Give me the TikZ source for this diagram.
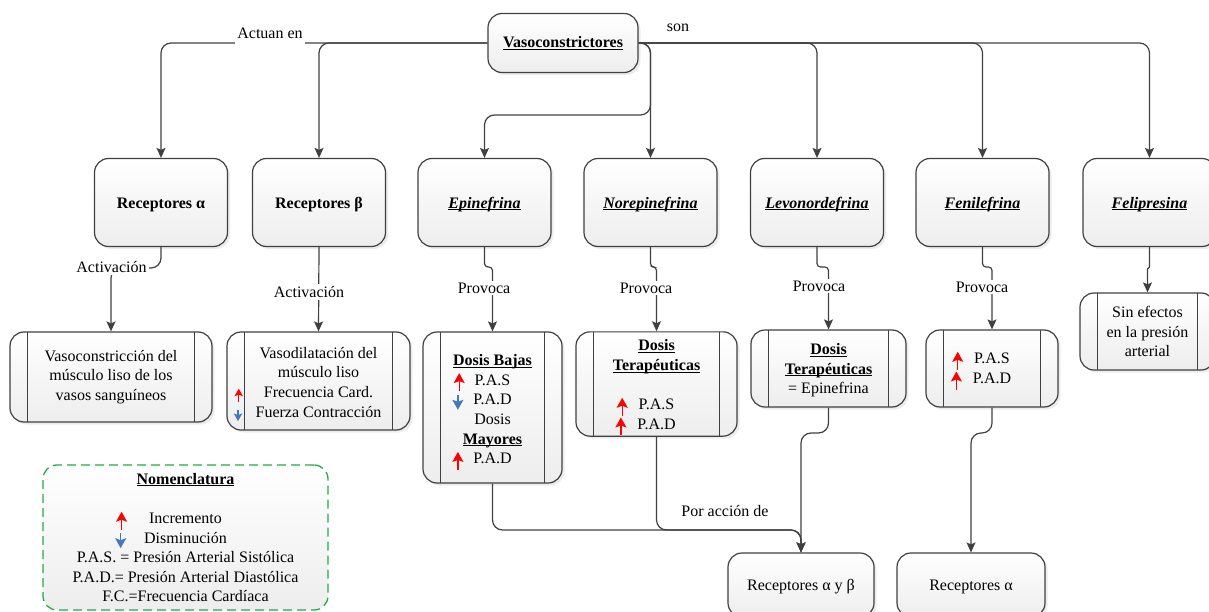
\documentclass[tikz,border=0pt]{standalone}
\usepackage{fontspec}
\setmainfont{Liberation Serif}
\usetikzlibrary{arrows.meta,shadows,calc}
\definecolor{lc}{HTML}{404040}
\definecolor{arred}{HTML}{FF0000}
\definecolor{arblue}{HTML}{4178BE}
\definecolor{nomgreen}{HTML}{22AA4C}
\newcommand{\upar}[1][1]{\tikz[baseline=0pt,x=1pt,y=1pt]\draw[arred,line width=1.4pt,-{Stealth[length=10pt,width=11pt,inset=2pt,scale=#1]}] (0,-6*#1) -- (0,12*#1);}
\newcommand{\dnar}[1][1]{\tikz[baseline=0pt,x=1pt,y=1pt]\draw[arblue,line width=1.4pt,-{Stealth[length=10pt,width=11pt,inset=2pt,scale=#1]}] (0,10*#1) -- (0,-5*#1);}
\newcommand{\uln}[1]{\underline{\smash{#1}}\vphantom{#1}}
\newcommand{\topstrut}[1]{\rule{0pt}{#1}}
\tikzset{
  basebox/.style={draw=lc, line width=1.2pt, rounded corners=14pt, top color=white, bottom color=black!7,
     drop shadow={shadow xshift=2.5pt,shadow yshift=-2.5pt,opacity=0.15}, align=center, inner sep=0pt,
     font=\fontsize{16}{19.7}\selectfont},
  mainbox/.style={basebox, minimum width=133pt, minimum height=88pt},
  procbox/.style={basebox, path picture={
     \draw[lc, line width=1.2pt]
       ([xshift=17.5pt]path picture bounding box.north west) -- ([xshift=17.5pt]path picture bounding box.south west)
       ([xshift=-17.5pt]path picture bounding box.north east) -- ([xshift=-17.5pt]path picture bounding box.south east);}},
  nombox/.style={draw=nomgreen, line width=1.3pt, dash pattern=on 9pt off 5pt, rounded corners=14pt,
     top color=white, bottom color=black!7, align=center, inner sep=0pt,
     font=\fontsize{16}{19.5}\selectfont, minimum width=285pt, minimum height=145pt},
  conn/.style={draw=lc, line width=1.2pt, rounded corners=10pt, -{Stealth[length=10pt,width=9pt,inset=2pt]}},
  jog/.style={conn, rounded corners=3.5pt},
  lbl/.style={font=\fontsize{16}{19.7}\selectfont, inner sep=2pt},
  wlbl/.style={lbl, fill=white},
}
\begin{document}
\begin{tikzpicture}[x=1pt,y=-1pt]
\useasboundingbox (0,0) rectangle (1209,612);

% top node
\node[mainbox, minimum width=150pt, minimum height=59pt] (vaso) at (563,43) {\textbf{\uln{Vasoconstrictores}}};

% row of nodes
\node[mainbox] (recA) at (161,202.5) {\topstrut{15pt}\textbf{Receptores α}};
\node[mainbox] (recB) at (319,202.5) {\topstrut{15pt}\textbf{Receptores β}};
\node[mainbox] (epi)  at (484.5,202.5) {\topstrut{15pt}\textbf{\textit{\uln{Epinefrina}}}};
\node[mainbox] (nore) at (650.5,202.5) {\topstrut{15pt}\textbf{\textit{\uln{Norepinefrina}}}};
\node[mainbox] (levo) at (817,202.5) {\topstrut{15pt}\textbf{\textit{\uln{Levonordefrina}}}};
\node[mainbox] (feni) at (982.5,202.5) {\topstrut{15pt}\textbf{\textit{\uln{Fenilefrina}}}};
\node[mainbox] (feli) at (1149.5,202.5) {\topstrut{15pt}\textbf{\textit{\uln{Felipresina}}}};

% process boxes
\node[procbox, minimum width=202pt, minimum height=90pt] (box1) at (111,377)
  {Vasoconstricción del\\músculo liso de los\\vasos sanguíneos};
\node[procbox, minimum width=183pt, minimum height=98pt] (box2) at (318.5,381)
  {\topstrut{18pt}Vasodilatación del\\músculo liso\\\llap{\upar[0.75]\hspace{21pt}}Frecuencia Card.\\\llap{\dnar[0.75]\hspace{13.5pt}}Fuerza Contracción};
\node[procbox, minimum width=139pt, minimum height=151pt] (box3) at (492.5,407.5)
  {\topstrut{21pt}\uln{\textbf{Dosis Bajas}}\\\llap{\upar\hspace{10pt}}P.A.S\\\llap{\dnar\hspace{10pt}}P.A.D\\Dosis\\\uln{\textbf{Mayores}}\\\llap{\upar\hspace{10pt}}P.A.D};
\node[procbox, minimum width=161pt, minimum height=104pt] (box4) at (656.5,384)
  {\topstrut{19pt}\uln{\textbf{Dosis}}\\\uln{\textbf{Terapéuticas}}\\[19.5pt]\llap{\upar\hspace{11pt}}P.A.S\\\llap{\upar\hspace{11pt}}P.A.D};
\node[procbox, minimum width=155pt, minimum height=77pt] (box5) at (828.5,368.5)
  {\topstrut{15pt}\uln{\textbf{Dosis}}\\\uln{\textbf{Terapéuticas}}\\= Epinefrina};
\node[procbox, minimum width=132pt, minimum height=77pt] (box6) at (992,368.5)
  {\topstrut{17pt}\llap{\upar\hspace{11pt}}P.A.S\\\llap{\upar\hspace{11pt}}P.A.D};
\node[procbox, minimum width=135pt, minimum height=77pt] (box7) at (1147.5,331.5)
  {Sin efectos\\en la presión\\arterial};

% bottom receptor boxes
\node[basebox, minimum width=146pt, minimum height=64pt] (recAB) at (801,585) {\topstrut{15pt}Receptores α y β};
\node[basebox, minimum width=148pt, minimum height=64pt] (recA2) at (971,585) {\topstrut{15pt}Receptores α};

% nomenclature
\node[nombox] (nom) at (185.5,537.5)
  {\uln{\textbf{Nomenclatura}}\\[20pt]\llap{\upar\hspace{22pt}}Incremento\\\llap{\dnar\hspace{18pt}}Disminución\\P.A.S. = Presión Arterial Sistólica\\P.A.D.= Presión Arterial Diastólica\\F.C.=Frecuencia Cardíaca};

% helper coordinates
\coordinate (epiturn) at (650.5,115);
\coordinate (actA) at (111,268);
\coordinate (jE) at (492.5,267);
\coordinate (jN) at (656.5,267);
\coordinate (jL) at (828.5,267);
\coordinate (jF) at (992,267);
\coordinate (jP) at (1147.5,268);
\coordinate (bj) at (801,530);
\coordinate (j5) at (801,433);
\coordinate (j6) at (971,433);

% connectors from top
\draw[conn] (vaso.west) -| (recA.north);
\draw[conn] (vaso.west) -| (recB.north);
\draw[conn] (vaso.east) -| (nore.north);
\draw[conn] (vaso.east) -| (epiturn) -| (epi.north);
\draw[conn] (vaso.east) -| (levo.north);
\draw[conn] (vaso.east) -| (feni.north);
\draw[conn] (vaso.east) -| (feli.north);

% second level connectors
\draw[conn] (recA.south) |- (actA) -- (box1.north);
\draw[conn] (recB.south) -- (box2.north);
\draw[jog] (epi.south) |- (jE) -- (box3.north);
\draw[jog] (nore.south) |- (jN) -- (box4.north);
\draw[jog] (levo.south) |- (jL) -- (box5.north);
\draw[jog] (feni.south) |- (jF) -- (box6.north);
\draw[jog, rounded corners=1pt] (feli.south) |- (jP) -- (box7.north);

% bottom connectors
\draw[conn] (box3.south) |- (bj) -- (recAB.north);
\draw[conn] (box4.south) |- (bj) -- (recAB.north);
\draw[conn] (box5.south) |- (j5) -- (recAB.north);
\draw[conn] (box6.south) |- (j6) -- (recA2.north);

% labels
\node[wlbl, minimum height=22pt] (lact) at (270,33.5) {Actuan en};
\node[lbl] (lson) at (678,28) {son};
\node[wlbl] (lacA) at (111.5,267) {Activación};
\node[wlbl] (lacB) at (309,292) {Activación};
\node[wlbl] (lpE) at (484,288) {Provoca};
\node[wlbl] (lpN) at (646,288) {Provoca};
\node[wlbl] (lpL) at (819,286) {Provoca};
\node[wlbl] (lpF) at (982,287) {Provoca};
\node[lbl] (lpor) at (725,511) {Por acción de};
\end{tikzpicture}
\end{document}
